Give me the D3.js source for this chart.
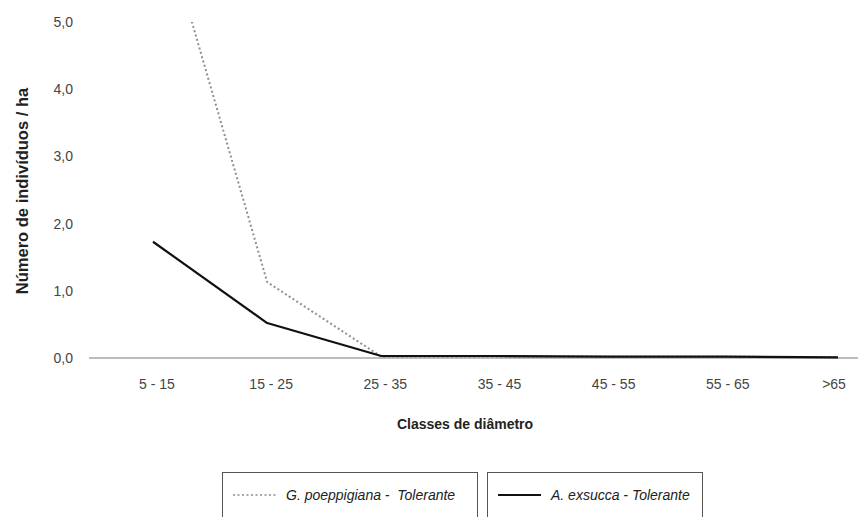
<!DOCTYPE html>
<html>
<head>
<meta charset="utf-8">
<script src="https://cdn.jsdelivr.net/npm/d3@7"></script>
<style>
  body { margin: 0; background: #fff; }
  svg { display: block; font-family: "Liberation Sans", Arial, sans-serif; }
  text { white-space: pre; }
</style>
</head>
<body>
<svg id="chart"></svg>
<script>
// chart values
const classes = ['5 - 15', '15 - 25', '25 - 35', '35 - 45', '45 - 55', '55 - 65', '>65'];
const poeppigiana = [7.0, 1.13, 0.02, 0.02, 0.02, 0.02, 0.01];
const exsucca = [1.73, 0.52, 0.03, 0.03, 0.02, 0.02, 0.01];
const yTicks = [0, 1, 2, 3, 4, 5];
const seriesNames = ['G. poeppigiana -  Tolerante', 'A. exsucca - Tolerante'];

var config = {
  width: 858,
  height: 517,
  top: 22,
  bottom: 358,
  axisLeft: 89,
  xRange: [153, 838]
};

var svg = d3.select('#chart')
  .attr('width', config.width)
  .attr('height', config.height);

var x = d3.scalePoint().domain(classes).range(config.xRange);
var y = d3.scaleLinear().domain([0, 5]).range([config.bottom, config.top]);

svg.append('clipPath').attr('id', 'plotclip')
  .append('rect')
  .attr('x', 0).attr('y', config.top)
  .attr('width', config.width).attr('height', config.bottom - config.top + 10);

// zero line
svg.append('line')
  .attr('x1', config.axisLeft).attr('x2', config.width)
  .attr('y1', y(0)).attr('y2', y(0))
  .attr('stroke', '#bdbdbd').attr('stroke-width', 2);

// y tick labels
svg.selectAll('.ytick')
  .data(yTicks)
  .enter().append('text')
  .attr('class', 'ytick')
  .attr('x', 73).attr('y', d => y(d))
  .attr('dy', '0.35em')
  .attr('text-anchor', 'end')
  .attr('font-size', 14).attr('fill', '#444')
  .text(d => d3.format('.1f')(d).replace('.', ','));

// x tick labels
svg.selectAll('.xtick')
  .data(classes)
  .enter().append('text')
  .attr('class', 'xtick')
  .attr('x', (d, i) => x(d) + (i == classes.length - 1 ? -4 : 4)).attr('y', 389)
  .attr('text-anchor', 'middle')
  .attr('font-size', 14).attr('fill', '#444')
  .text(d => d);

// axis titles
svg.append('text')
  .attr('x', 465).attr('y', 429)
  .attr('text-anchor', 'middle')
  .attr('font-size', 14).attr('font-weight', 'bold').attr('fill', '#222')
  .text('Classes de diâmetro');

svg.append('text')
  .attr('transform', 'translate(28,191) rotate(-90)')
  .attr('text-anchor', 'middle')
  .attr('font-size', 16.5).attr('font-weight', 'bold').attr('fill', '#222')
  .text('Número de indivíduos / ha');

var line = d3.line()
  .x((d, i) => x(classes[i]))
  .y(d => y(d));

var plot = svg.append('g').attr('clip-path', 'url(#plotclip)');

plot.append('path')
  .datum(poeppigiana)
  .attr('d', line)
  .attr('fill', 'none')
  .attr('stroke', '#8f8f8f')
  .attr('stroke-width', 2)
  .attr('stroke-dasharray', '2,2.5');

plot.append('path')
  .datum(exsucca)
  .attr('d', line)
  .attr('fill', 'none')
  .attr('stroke', '#111')
  .attr('stroke-width', 2.2)
  .attr('stroke-linejoin', 'round');

// legend boxes
var legend = [
  { name: seriesNames[0], x0: 222, x1: 477, dash: '2,2.5', color: '#8f8f8f', w: 1.5 },
  { name: seriesNames[1], x0: 487, x1: 702, dash: null, color: '#111', w: 2.2 }
];

var lg = svg.selectAll('.legend')
  .data(legend)
  .enter().append('g')
  .attr('class', 'legend');

lg.append('rect')
  .attr('x', d => d.x0 + 0.5).attr('y', 472.5)
  .attr('width', d => d.x1 - d.x0).attr('height', 60)
  .attr('fill', 'none').attr('stroke', '#555').attr('stroke-width', 1);

lg.append('line')
  .attr('x1', d => d.x0 + 11).attr('x2', d => d.x0 + 54)
  .attr('y1', 495).attr('y2', 495)
  .attr('stroke', d => d.color)
  .attr('stroke-width', d => d.w)
  .attr('stroke-dasharray', d => d.dash);

lg.append('text')
  .attr('x', d => d.x0 + 64).attr('y', 495)
  .attr('dy', '0.35em')
  .attr('font-size', 14).attr('font-style', 'italic').attr('fill', '#222')
  .text(d => d.name);
</script>
</body>
</html>
